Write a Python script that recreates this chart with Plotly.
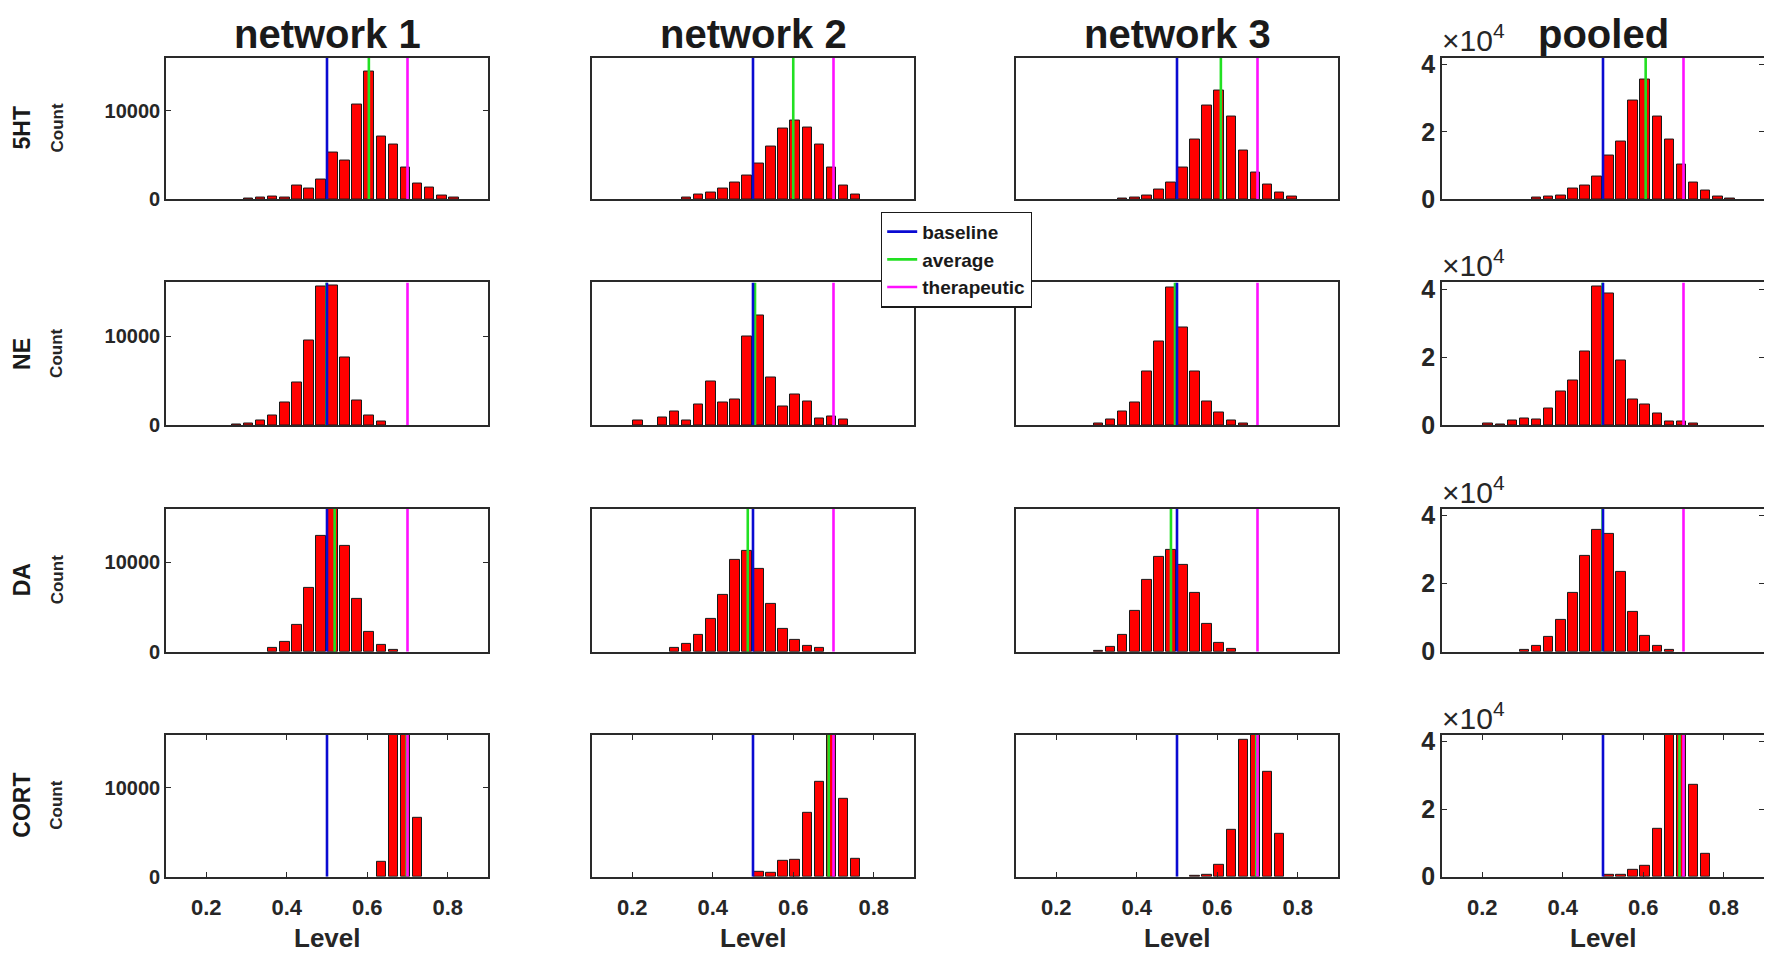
import plotly.graph_objects as go
from plotly.subplots import make_subplots

# bin centres (bin width 0.03, bars drawn at 80% width like MATLAB bar())
bin_centers = [0.185, 0.215, 0.245, 0.275, 0.305, 0.335, 0.365, 0.395, 0.425, 0.455, 0.485,
               0.515, 0.545, 0.575, 0.605, 0.635, 0.665, 0.695, 0.725, 0.755, 0.785, 0.815]

column_titles = ['network 1', 'network 2', 'network 3', 'pooled']
row_titles = ['5HT', 'NE', 'DA', 'CORT']

# counts per bin, one list per network / pooled
ht5_net1 = [0, 0, 0, 0, 60, 190, 340, 230, 1580, 1200, 2180, 5310, 4370, 10650, 14460, 7040, 6170, 3610, 1840, 1320, 450, 230]
ht5_net2 = [0, 0, 0, 0, 0, 190, 490, 750, 1200, 1920, 2670, 3990, 5950, 8020, 8850, 8130, 6170, 3610, 1580, 490, 0, 0]
ht5_net3 = [0, 0, 0, 0, 0, 0, 50, 230, 450, 1090, 1920, 3610, 6780, 10540, 12270, 9340, 5460, 3050, 1690, 750, 340, 0]
ht5_pool = [0, 0, 0, 0, 0, 490, 790, 1190, 3060, 3950, 6620, 13040, 17090, 29340, 35370, 24400, 17690, 10180, 5040, 2470, 890, 230]

ne_net1 = [0, 0, 0, 50, 230, 490, 1130, 2560, 4740, 9490, 15550, 15620, 7640, 2820, 1130, 380, 0, 0, 0, 0, 0, 0]
ne_net2 = [0, 490, 0, 830, 1580, 490, 2300, 4860, 2520, 2900, 9940, 12310, 5350, 2070, 3500, 2670, 750, 980, 600, 0, 0, 0]
ne_net3 = [0, 0, 0, 0, 230, 640, 1580, 2560, 5990, 9370, 15470, 10920, 6060, 2710, 1470, 490, 230, 0, 0, 0, 0, 0]
ne_pool = [0, 590, 100, 1280, 1980, 1680, 4840, 9980, 13040, 21640, 40800, 38830, 19070, 7610, 6030, 3460, 990, 990, 590, 0, 0, 0]

da_net1 = [0, 0, 0, 0, 0, 0, 410, 1130, 3050, 7190, 12990, 16200, 11820, 5870, 2220, 790, 230, 0, 0, 0, 0, 0]
da_net2 = [0, 0, 0, 0, 380, 870, 1840, 3690, 6330, 10240, 11330, 9260, 5380, 2600, 1360, 640, 380, 0, 0, 0, 0, 0]
da_net3 = [0, 0, 0, 0, 50, 530, 1840, 4520, 8060, 10580, 11410, 9710, 6550, 3160, 980, 260, 0, 0, 0, 0, 0, 0]
da_pool = [0, 0, 0, 0, 590, 1780, 4250, 9390, 17290, 28160, 35860, 34780, 23610, 11560, 4740, 1780, 590, 0, 0, 0, 0, 0]

cort_net1 = [0, 0, 0, 0, 0, 0, 0, 0, 0, 0, 0, 0, 0, 0, 0, 1690, 26000, 27000, 6630, 0, 0, 0]
cort_net2 = [0, 0, 0, 0, 0, 0, 0, 0, 0, 0, 0, 560, 410, 1770, 1880, 7230, 10730, 28000, 8770, 2030, 0, 0]
cort_net3 = [0, 0, 0, 0, 0, 0, 0, 0, 0, 0, 0, 0, 50, 260, 1360, 5270, 15470, 22500, 11820, 4780, 0, 0]
cort_pool = [0, 0, 0, 0, 0, 0, 0, 0, 0, 0, 0, 590, 590, 1980, 3260, 14230, 52200, 77500, 27170, 6720, 0, 0]

counts = [
    [ht5_net1, ht5_net2, ht5_net3, ht5_pool],
    [ne_net1, ne_net2, ne_net3, ne_pool],
    [da_net1, da_net2, da_net3, da_pool],
    [cort_net1, cort_net2, cort_net3, cort_pool],
]

baseline_level = 0.5
therapeutic_level = 0.7
average_levels = [
    [0.604, 0.600, 0.609, 0.606],
    [0.499, 0.505, 0.495, 0.499],
    [0.519, 0.487, 0.485, 0.499],
    [0.698, 0.688, 0.697, 0.690],
]

# page has an 8px body margin, so the figure is drawn 8px in from the window corner
OFF = 8
W, H = 1772 - OFF, 963 - OFF
FONT = 'Liberation Sans, Arial, Helvetica, sans-serif'
col_px = [(166, 488), (592, 914), (1016, 1338), (1442, 1764)]
row_px = [(51.5, 196.5), (281.5, 427.5), (513, 659), (744, 889)]
ymax_net = 16000
ymax_pool = 42000


def px(x):
    return (x - OFF) / W


def py(y):
    return 1 - (y - OFF) / H


fig = make_subplots(rows=4, cols=4)

for r in range(4):
    for c in range(4):
        ymax = ymax_pool if c == 3 else ymax_net
        fig.add_trace(go.Bar(
            x=bin_centers, y=[v if v > 0 else None for v in counts[r][c]], width=0.024,
            marker=dict(color='#ff0000', line=dict(color='#1a1a1a', width=1)),
            showlegend=False, hoverinfo='x+y'
        ), row=r + 1, col=c + 1)
        first = (r == 0 and c == 0)
        # average first so that baseline / therapeutic sit on top when they coincide
        fig.add_trace(go.Scatter(
            x=[average_levels[r][c]] * 2, y=[0, ymax], mode='lines',
            line=dict(color='#22e022', width=2.6), name='average',
            legendrank=2, showlegend=first
        ), row=r + 1, col=c + 1)
        fig.add_trace(go.Scatter(
            x=[baseline_level] * 2, y=[0, ymax], mode='lines',
            line=dict(color='#0a0ad2', width=2.6), name='baseline',
            legendrank=1, showlegend=first
        ), row=r + 1, col=c + 1)
        fig.add_trace(go.Scatter(
            x=[therapeutic_level] * 2, y=[0, ymax], mode='lines',
            line=dict(color='#ff10ff', width=2.6), name='therapeutic',
            legendrank=3, showlegend=first
        ), row=r + 1, col=c + 1)

axis_line = dict(showline=True, mirror='ticks', linecolor='#2a2a2a', linewidth=1.6,
                 showgrid=False, zeroline=False, ticks='inside', ticklen=5,
                 tickcolor='#2a2a2a', tickwidth=1.2,
                 tickfont=dict(family=FONT, size=21, color='#262626', weight='bold'))

for r in range(4):
    for c in range(4):
        k = r * 4 + c + 1
        x0, x1 = col_px[c]
        y0, y1 = row_px[r]
        xa = dict(axis_line, domain=[px(x0), px(x1)], range=[0.1, 0.9])
        if r == 3:
            xa.update(tickvals=[0.2, 0.4, 0.6, 0.8], ticktext=['0.2', '0.4', '0.6', '0.8'],
                      ticklabelstandoff=10,
                      tickfont=dict(family=FONT, size=22, color='#262626', weight='bold'))
        else:
            xa.update(tickvals=[], showticklabels=False)
        ya = dict(axis_line, domain=[py(y1), py(y0)])
        if c == 3:
            ya.update(range=[0, ymax_pool], tickvals=[0, 20000, 40000], ticktext=['0', '2', '4'],
                      tickfont=dict(family=FONT, size=25, color='#262626', weight='bold'))
        elif c == 0:
            ya.update(range=[0, ymax_net], tickvals=[0, 10000], ticktext=['0', '10000'],
                      tickfont=dict(family=FONT, size=20, color='#262626', weight='bold'))
        else:
            ya.update(range=[0, ymax_net], tickvals=[], showticklabels=False)
        fig.layout['xaxis' if k == 1 else f'xaxis{k}'].update(xa)
        fig.layout['yaxis' if k == 1 else f'yaxis{k}'].update(ya)

annotations = []
for c, title in enumerate(column_titles):
    x0, x1 = col_px[c]
    annotations.append(dict(text=title, x=px((x0 + x1) / 2), y=py(27), xref='paper', yref='paper',
                            xanchor='center', yanchor='middle', showarrow=False,
                            font=dict(family=FONT, size=40, color='#1a1a1a', weight='bold')))
    annotations.append(dict(text='Level', x=px((x0 + x1) / 2), y=py(952), xref='paper', yref='paper',
                            xanchor='center', yanchor='middle', showarrow=False,
                            font=dict(family=FONT, size=26, color='#262626', weight='bold')))
for r, name in enumerate(row_titles):
    y0, y1 = row_px[r]
    yc = py((y0 + y1) / 2)
    annotations.append(dict(text=name, x=px(22), y=yc, xref='paper', yref='paper', textangle=-90,
                            xanchor='center', yanchor='middle', showarrow=False,
                            font=dict(family=FONT, size=23, color='#1a1a1a', weight='bold')))
    annotations.append(dict(text='Count', x=px(57), y=yc, xref='paper', yref='paper', textangle=-90,
                            xanchor='center', yanchor='middle', showarrow=False,
                            font=dict(family=FONT, size=17, color='#262626', weight='bold')))
    annotations.append(dict(text='\u00d710<sup>4</sup>', x=px(1440), y=py(y0 + 2), xref='paper',
                            yref='paper', xanchor='left', yanchor='bottom', showarrow=False,
                            font=dict(family=FONT, size=30, color='#262626')))

fig.update_layout(
    width=W, height=H,
    margin=dict(l=0, r=0, t=0, b=0),
    paper_bgcolor='white', plot_bgcolor='white',
    bargap=0,
    annotations=annotations,
    showlegend=True,
    legend=dict(x=px(881), y=py(209), xanchor='left', yanchor='top',
                bgcolor='white', bordercolor='#1a1a1a', borderwidth=1.2,
                font=dict(family=FONT, size=19, color='#1a1a1a', weight='bold'),
                tracegroupgap=0, itemwidth=30),
)

fig.write_html("out.html")
